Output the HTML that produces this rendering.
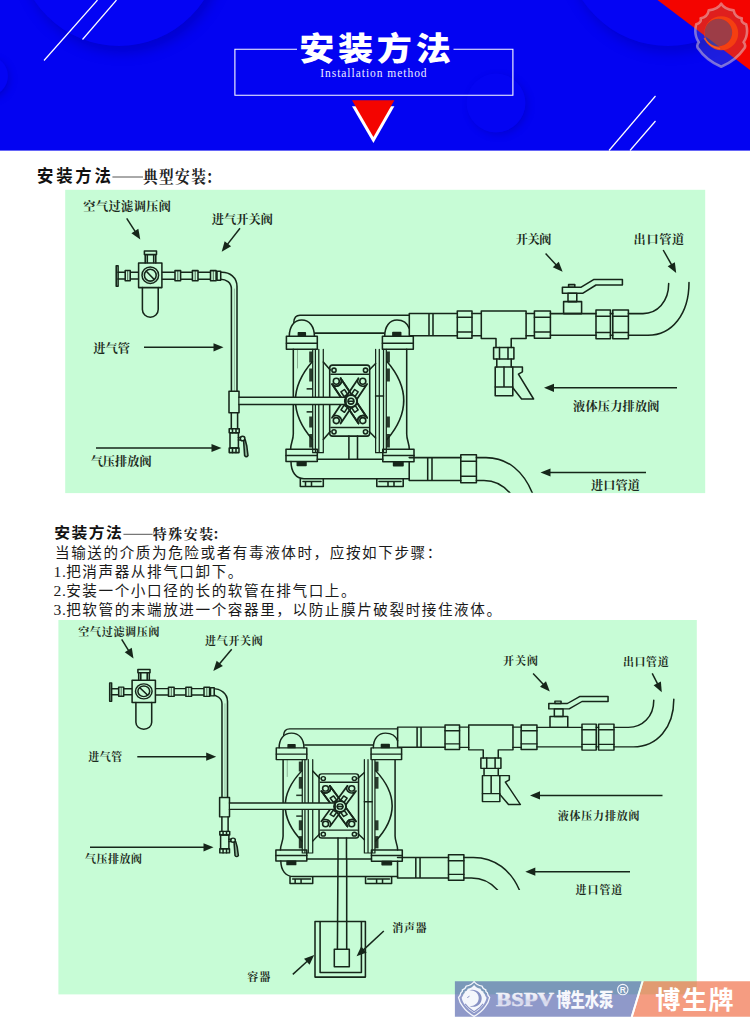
<!DOCTYPE html>
<html lang="zh"><head><meta charset="utf-8"><title>安装方法 Installation method</title>
<style>
html,body{margin:0;padding:0;background:#fff;}
body{width:750px;height:1018px;overflow:hidden;font-family:"Liberation Sans",sans-serif;}
svg{display:block;}
</style></head><body>
<svg width="750" height="1018" viewBox="0 0 750 1018">
<defs>
<clipPath id="hclip"><rect x="0" y="0" width="750" height="150.5"/></clipPath>
<filter id="bl7" x="-30%" y="-30%" width="160%" height="160%"><feGaussianBlur stdDeviation="6"/></filter><filter id="bl4" x="-30%" y="-30%" width="160%" height="160%"><feGaussianBlur stdDeviation="3.5"/></filter>
<g id="artF" fill="none" stroke="#16261a" stroke-width="1.55" stroke-linejoin="round" stroke-linecap="round"><rect x="116.2" y="265.8" width="1.9" height="20.5"/><path d="M118 272.3H138.6M118 278.9H138.6"/><rect x="125.2" y="270.5" width="5" height="10.2" fill="#c7fcd6"/><path d="M127.7 271V280.3" stroke-width="0.7"/><rect x="138.6" y="263" width="23.3" height="24.6" fill="#c7fcd6"/><circle cx="150.3" cy="275.2" r="8.3" stroke-width="1.5"/><circle cx="150.3" cy="275.2" r="5.9"/><path d="M146.3 271.3L154 279.2" stroke-width="1.6"/><path d="M144.4 251H156.5V254.6H155.8V263M145.2 263V254.6H144.4V251M145.2 254.6H155.8M147.3 255V262.6M153.7 255V262.6"/><path d="M142.4 287.6V309.5C142.4 314 146 317.2 150.3 317.2C154.6 317.2 158.2 314 158.2 309.5V287.6"/><rect x="175" y="270.6" width="5.6" height="10.2" fill="#c7fcd6"/><path d="M177.8 271V280.4" stroke-width="0.7"/><rect x="192.4" y="270.6" width="5.6" height="10.2" fill="#c7fcd6"/><path d="M195.2 271V280.4" stroke-width="0.7"/><rect x="210.5" y="270.6" width="5.6" height="10.2" fill="#c7fcd6"/><path d="M213.3 271V280.4" stroke-width="0.7"/><rect x="217" y="271.2" width="3.7" height="9" fill="#c7fcd6"/></g>
<g id="artP" fill="none" stroke="#16261a" stroke-width="1.55" stroke-linejoin="round" stroke-linecap="round"><path d="M161.9 272.2H222C229.5 272.2 237 277 237 286.5V394M161.9 279.3H220.5C226 279.3 231.4 282.5 231.4 289V394"/><path d="M234.4 289V391" stroke-width="0.5" opacity="0.6"/></g>
<g id="artR" fill="none" stroke="#16261a" stroke-width="1.55" stroke-linejoin="round" stroke-linecap="round"><rect x="229" y="391.3" width="10" height="21.4" fill="#c7fcd6"/><path d="M231.3 412.7V428.7M237.6 412.7V428.7"/><rect x="229.2" y="428.7" width="10" height="4"/><path d="M232.5 428.7V432.7M236 428.7V432.7"/><rect x="230" y="432.7" width="8.4" height="15.3"/><rect x="229.2" y="448" width="9.8" height="4.6"/><path d="M232.5 448V452.6M236 448V452.6"/><circle cx="242.6" cy="438.5" r="2.3"/><path d="M238.4 437.5H240.4M238.4 440H240.4"/><path d="M243.6 440.6L244.6 455.5Q246.3 458 248 455.5L246.8 446L245.2 439.8" fill="#16261a" fill-opacity="0.35"/><path d="M293.8 322.5C294 318 296 315.3 300 315.3H409.3M315.3 333.1H384.2"/><path d="M289.3 336.3C289.3 326.5 294 320 301.8 320C309.5 320 314.4 326.5 314.4 336.3"/><path d="M384.7 336.3C384.7 326.5 389.5 320 397 320C403 320 407.5 323.5 409.3 328.5"/><rect x="298.4" y="332.7" width="6.9" height="3.4" fill="#16261a"/><rect x="392.9" y="332.5" width="7.8" height="3.6" fill="#16261a"/><rect x="286.4" y="336.3" width="30.9" height="13"/><path d="M286.4 343.2H317.3"/><rect x="382.4" y="336.3" width="30.9" height="13"/><path d="M382.4 343.2H413.3"/><path d="M293.3 349.3V434C293.3 440 290.6 443.5 290.6 449.3"/><path d="M406.7 349.3V434C406.7 440 409.3 443.5 409.3 449.3"/><path d="M297.5 349.3V368" stroke-width="0.6" opacity="0.6"/><path d="M312.4 361.5Q278.5 400.5 312.4 439.5"/><path d="M387 361.5Q420.5 400.5 387 439.5"/><path d="M312.7 349.3V452.7H323.3V349.3M315.4 349.3V452.7M318.8 349.3V452.7" stroke-width="1.25"/><path d="M375.6 349.3V452.7H386.3V349.3M379.3 349.3V452.7M383.5 349.3V452.7" stroke-width="1.25"/><path d="M375.6 396H383.5"/><rect x="309.2" y="351.5" width="3.5" height="11" fill="#16261a" stroke="none" opacity="0.9"/><rect x="309.2" y="368.5" width="3.5" height="13" fill="#16261a" stroke="none" opacity="0.9"/><rect x="306.6" y="388" width="6" height="1.7" fill="#16261a" stroke="none" opacity="0.9"/><rect x="306.6" y="411" width="6" height="1.7" fill="#16261a" stroke="none" opacity="0.9"/><rect x="309.2" y="416.5" width="3.5" height="11" fill="#16261a" stroke="none" opacity="0.9"/><rect x="309.2" y="434" width="3.5" height="13.5" fill="#16261a" stroke="none" opacity="0.9"/><rect x="386.4" y="351.5" width="3.5" height="11" fill="#16261a" stroke="none" opacity="0.9"/><rect x="386.4" y="368.5" width="3.5" height="13" fill="#16261a" stroke="none" opacity="0.9"/><rect x="386.4" y="416.5" width="3.5" height="11" fill="#16261a" stroke="none" opacity="0.9"/><rect x="386.4" y="434" width="3.5" height="13.5" fill="#16261a" stroke="none" opacity="0.9"/><path d="M323.3 362L330.3 370M375.6 363.5L369.2 370M323.3 439.5L330.3 431.5M375.6 438L369.2 431.5"/><path d="M332.5 365.1H367Q369.7 365.1 369.7 368V433.2Q369.7 436.1 367 436.1H332.5Q329.7 436.1 329.7 433.2V368Q329.7 365.1 332.5 365.1Z"/><path d="M331 374.3H368.5M331 427.4H368.5"/><circle cx="334" cy="370.2" r="2.1"/><circle cx="365.5" cy="370.2" r="2.1"/><circle cx="334" cy="431.8" r="2.1"/><circle cx="365.5" cy="431.8" r="2.1"/><path d="M331.99 384.1L358.49 423.5A5.2 5.2 0 0 1 367.11 417.7L340.61 378.3A5.2 5.2 0 0 1 331.99 384.1Z" fill="#c7fcd6" stroke-width="1.8"/><path d="M358.49 378.3L331.99 417.7A5.2 5.2 0 0 1 340.61 423.5L367.11 384.1A5.2 5.2 0 0 1 358.49 378.3Z" fill="#c7fcd6" stroke-width="1.8"/><path d="M331.99 384.1L358.49 423.5A5.2 5.2 0 0 1 367.11 417.7L340.61 378.3A5.2 5.2 0 0 1 331.99 384.1Z" fill="none" stroke-width="1.8"/><circle cx="336.3" cy="381.2" r="3" stroke-width="1.6"/><circle cx="362.8" cy="381.2" r="3" stroke-width="1.6"/><circle cx="336.3" cy="420.6" r="3" stroke-width="1.6"/><circle cx="362.8" cy="420.6" r="3" stroke-width="1.6"/><rect x="341.45" y="390.92" width="5.6" height="4.2" transform="rotate(56.08 344.25 393.02)"/><rect x="352.05" y="406.68" width="5.6" height="4.2" transform="rotate(56.08 354.85 408.78)"/><rect x="352.05" y="390.92" width="5.6" height="4.2" transform="rotate(123.92 354.85 393.02)"/><rect x="341.45" y="406.68" width="5.6" height="4.2" transform="rotate(123.92 344.25 408.78)"/><rect x="239.6" y="397.3" width="106.6" height="7.1" fill="#c7fcd6" stroke="none"/><path d="M239 397.3H346.5M239 404.4H346.5"/><circle cx="351" cy="401.2" r="6.1" fill="#c7fcd6" stroke-width="2"/><circle cx="351" cy="401.2" r="2.9" stroke-width="1.6"/><path d="M348.2 401.2H353.8"/><path d="M346 397.3V404.4"/><path d="M348.9 436.1V459.3M357.5 436.1V459.3"/><rect x="286" y="449.3" width="31.3" height="12.3"/><path d="M286 455.4H317.3"/><rect x="382.8" y="449.3" width="31.2" height="12.5"/><path d="M382.8 455.4H414"/><rect x="297.3" y="461.8" width="8.7" height="3.8" fill="#16261a"/><rect x="393.6" y="462" width="9.4" height="3.8" fill="#16261a"/><path d="M317.3 459.3H382.8"/><path d="M291 461.6C291 472 296 478.7 304 478.7H409.2"/><path d="M300.3 479V486.4H323.3V479M305.5 481.5V486.4M311.5 481.5V486.4M303 481.5H321"/><path d="M376.8 479V486.4H403.2V479M388 481.5V486.4M394 481.5V486.4M379 481.5H401"/><path d="M409.3 313.4H457.3M409.3 313.4V335.7H457.3M429 313.4V335.7M433 313.4V335.7"/><path d="M409.2 457.6H460.8M409.2 461.8V480.4H460.8M427.7 457.6V480.4M432 457.6V480.4"/><rect x="457.3" y="311" width="14.7" height="27.2"/><path d="M457.3 317.3H472 M457.3 331.9H472"/><path d="M472 313.4H481.3M472 335.8H481.3"/><path d="M481.3 311H526.1V338.5H511.2V347.5M496 347.5V338.5H481.3V311"/><path d="M526.1 313.4H534.4M526.1 335.8H534.4"/><rect x="534.4" y="311" width="16" height="27.2"/><path d="M534.4 317.3H550.4 M534.4 331.9H550.4"/><path d="M550.4 313.6H596M550.4 335.2H596"/><rect x="596" y="310" width="14.4" height="28.8"/><path d="M596 316.3H610.4 M596 332.5H610.4"/><rect x="612.8" y="310" width="15.6" height="28.8"/><path d="M612.8 316.3H628.4 M612.8 332.5H628.4"/><path d="M610.4 313.6H612.8M610.4 335.2H612.8"/><path d="M628.4 313.6H643C657 313.6 668.7 302 668.7 283.6M628.4 335.2H648C672 335.2 689 314 689 282.4"/><rect x="563.6" y="301.6" width="18" height="12"/><rect x="568" y="293.2" width="8.8" height="8.4"/><path d="M562.4 287.2H581.2L594 279.4H622.4V285H596L583 293.2H562.4Z"/><rect x="568.6" y="284.6" width="6.2" height="2.6"/><rect x="493.6" y="347.5" width="20.3" height="11.5"/><path d="M499.5 347.5V359M508 347.5V359"/><path d="M496.8 359V367M511.2 359V367"/><rect x="495.2" y="367" width="17.6" height="28.8"/><path d="M495.2 387H512.8M504 367V387"/><path d="M512.8 367H522.4V371.8L518.4 374.2L533.6 399H521.6L512.8 387.8"/><rect x="460.8" y="454.7" width="15.6" height="28.1"/><path d="M460.8 461.2H476.4M460.8 476.3H476.4"/><path d="M476.4 457.6H486C508 457.6 524 472 532.6 493.6M476.4 480.4H484C495 480.4 503 484.5 510.4 493.6"/></g>
<linearGradient id="bs" x1="0" y1="0" x2="0" y2="1"><stop offset="0" stop-color="#fbfbfe"/><stop offset="0.45" stop-color="#e4e6f2"/><stop offset="0.55" stop-color="#d2d5ea"/><stop offset="1" stop-color="#eceef8"/></linearGradient>
</defs>
<rect x="0" y="0" width="750" height="150.6" fill="#0303f2"/>
<g clip-path="url(#hclip)">
<circle cx="123" cy="-48" r="101.5" fill="#0000b4" opacity="0.55" filter="url(#bl7)"/>
<circle cx="119" cy="-55.5" r="101.5" fill="#0404f4"/>
<circle cx="671" cy="-50" r="103" fill="#0000b4" opacity="0.5" filter="url(#bl7)"/>
<circle cx="668" cy="-57" r="103" fill="#0404f4"/>
<circle cx="-10" cy="79" r="20" fill="#0000b4" opacity="0.5" filter="url(#bl4)"/>
<circle cx="-12" cy="76" r="20" fill="#0404f4"/>
<circle cx="498.5" cy="105.5" r="29.5" fill="#0000b4" opacity="0.45" filter="url(#bl4)"/>
<circle cx="496" cy="103" r="29.5" fill="#0404f3"/>
</g>
<polygon points="657.5,0 750,0 750,70" fill="#f40400"/>
<line x1="44" y1="60.5" x2="97.5" y2="0" stroke="#fff" stroke-width="1.2"/>
<line x1="82.5" y1="39.5" x2="116.5" y2="0" stroke="#fff" stroke-width="1.2"/>
<line x1="609" y1="150.5" x2="655.5" y2="96" stroke="#fff" stroke-width="1.2"/>
<line x1="630" y1="150.5" x2="655.5" y2="121" stroke="#fff" stroke-width="1.2"/>
<path d="M297 49.2H234.9V95.3H512.9V49.2H453.5" fill="none" stroke="#fff" stroke-width="1.1"/>
<polygon points="352,106.2 394.4,106.2 373.4,143" fill="#fff"/>
<polygon points="352,100.2 394.4,100.2 373.4,137" fill="#f40400"/>
<text transform="translate(299.3 60.4) scale(1.11 1)" font-family="'Liberation Sans','Noto Sans CJK SC',sans-serif" font-weight="900" font-size="31.6" letter-spacing="3.35" fill="#fff">安装方法</text>
<text transform="translate(320.2 77.1) scale(1 1.17)" font-family="'Liberation Serif',serif" font-size="11.5" letter-spacing="0.97" textLength="107.4" lengthAdjust="spacing" fill="#eeeeff">Installation method</text>
<text transform="translate(37 182) scale(0.97 1)" font-family="'Liberation Sans','Noto Sans CJK SC',sans-serif" font-weight="bold" font-size="16.9" letter-spacing="2.9" fill="#111">安装方法</text>
<line x1="112.4" y1="177" x2="143" y2="177" stroke="#555" stroke-width="1"/>
<text transform="translate(142.9 182.7) scale(0.886 1)" font-family="'Liberation Serif','Noto Serif CJK SC',serif" font-weight="bold" font-size="16.6" letter-spacing="1.57" fill="#222">典型安装</text>
<text transform="translate(205.8 182.7) scale(0.886 1)" font-family="'Liberation Serif','Noto Serif CJK SC',serif" font-weight="bold" font-size="16.6" fill="#222">：</text>
<text transform="translate(54.3 538.2) scale(1.04 1)" font-family="'Liberation Sans','Noto Sans CJK SC',sans-serif" font-weight="bold" font-size="15.2" letter-spacing="1.34" fill="#111">安装方法</text>
<line x1="123.4" y1="534.3" x2="152.6" y2="534.3" stroke="#555" stroke-width="1"/>
<text x="152.7" y="538.85" font-family="'Liberation Serif','Noto Serif CJK SC',serif" font-weight="bold" font-size="13.85" letter-spacing="1.65" fill="#222">特殊安装</text>
<text x="212.3" y="538.85" font-family="'Liberation Serif','Noto Serif CJK SC',serif" font-weight="bold" font-size="13.85" fill="#222">：</text>
<text x="55" y="557.9" font-family="'Liberation Sans','Noto Sans CJK SC',sans-serif" font-size="14.6" letter-spacing="1.57" fill="#1a1a1a">当输送的介质为危险或者有毒液体时，应按如下步骤：</text>
<text x="53.6" y="577.1" font-family="'Liberation Serif',serif" font-size="15.6" fill="#1a1a1a" letter-spacing="0.6">1.</text>
<text x="66.2" y="577.4" font-family="'Liberation Sans','Noto Sans CJK SC',sans-serif" font-size="14.6" letter-spacing="1.57" fill="#1a1a1a">把消声器从排气口卸下。</text>
<text x="53.6" y="596.1" font-family="'Liberation Serif',serif" font-size="15.6" fill="#1a1a1a" letter-spacing="0.6">2.</text>
<text x="66.2" y="596.4" font-family="'Liberation Sans','Noto Sans CJK SC',sans-serif" font-size="14.6" letter-spacing="1.57" fill="#1a1a1a">安装一个小口径的长的软管在排气口上。</text>
<text x="53.6" y="615.1" font-family="'Liberation Serif',serif" font-size="15.6" fill="#1a1a1a" letter-spacing="0.6">3.</text>
<text x="66.2" y="615.4" font-family="'Liberation Sans','Noto Sans CJK SC',sans-serif" font-size="14.6" letter-spacing="1.57" fill="#1a1a1a">把软管的末端放进一个容器里，以防止膜片破裂时接住液体。</text>
<rect x="65.2" y="189.8" width="640" height="303.3" fill="#c7fcd6"/>
<clipPath id="d1clip"><rect x="65.2" y="189.8" width="640" height="303"/></clipPath>
<g clip-path="url(#d1clip)"><use href="#artP"/><use href="#artR"/><use href="#artF"/></g>
<line x1="126.7" y1="218.3" x2="135.44" y2="231.92" stroke="#16261a" stroke-width="1.5"/><polygon points="140.3,239.5 131.45,233.3 138.35,228.87" fill="#16261a"/>
<line x1="240" y1="228.3" x2="227.24" y2="244.61" stroke="#16261a" stroke-width="1.5"/><polygon points="221.7,251.7 224.63,241.3 231.09,246.35" fill="#16261a"/>
<line x1="144" y1="347.3" x2="214.5" y2="347.3" stroke="#16261a" stroke-width="1.5"/><polygon points="223.5,347.3 213.5,351.4 213.5,343.2" fill="#16261a"/>
<line x1="96" y1="448" x2="212.5" y2="448" stroke="#16261a" stroke-width="1.5"/><polygon points="221.5,448 211.5,452.1 211.5,443.9" fill="#16261a"/>
<line x1="545.6" y1="253.6" x2="556.46" y2="265.22" stroke="#16261a" stroke-width="1.5"/><polygon points="562.6,271.8 552.78,267.29 558.77,261.69" fill="#16261a"/>
<line x1="663.2" y1="250" x2="671.77" y2="265.16" stroke="#16261a" stroke-width="1.5"/><polygon points="676.2,273 667.71,266.31 674.85,262.28" fill="#16261a"/>
<line x1="677" y1="387.8" x2="553" y2="387.8" stroke="#16261a" stroke-width="1.5"/><polygon points="544,387.8 554,383.7 554,391.9" fill="#16261a"/>
<line x1="646" y1="472.5" x2="549.5" y2="472.5" stroke="#16261a" stroke-width="1.5"/><polygon points="540.5,472.5 550.5,468.4 550.5,476.6" fill="#16261a"/>
<g font-family="'Liberation Serif','Noto Serif CJK SC',serif" font-weight="bold" font-size="12.2" fill="#1c2a20">
<text x="83.3" y="211.27" letter-spacing="0.4">空气过滤调压阀</text>
<text x="211.7" y="223.88" letter-spacing="0.1">进气开关阀</text>
<text x="93.3" y="352.88">进气管</text>
<text x="90.7" y="466.27">气压排放阀</text>
<text x="515.7" y="243.57" letter-spacing="-0.4">开关阀</text>
<text x="633.6" y="243.57" letter-spacing="0.6">出口管道</text>
<text x="573" y="410.57" letter-spacing="0.2">液体压力排放阀</text>
<text x="591" y="490.27" letter-spacing="0.05">进口管道</text>
</g>
<rect x="58.4" y="620" width="638.4" height="374.4" fill="#c7fcd6"/>
<clipPath id="d2clip"><rect x="58.4" y="620" width="638.4" height="270"/></clipPath>
<g clip-path="url(#d2clip)">
<use href="#artP" transform="matrix(0.9874 0 0 0.9035 -6.5 442.7)"/>
<use href="#artR" transform="matrix(0.9874 0 0 0.9035 -6.5 444.0)"/>
<use href="#artF" transform="matrix(1 0 0 0.9035 -6.5 442.7)"/>
</g>
<g fill="none" stroke="#16261a" stroke-width="1.55" stroke-linejoin="round">
<path d="M338 859L337.4 949.3M346.7 859V949.3"/>
<rect x="315" y="921.5" width="50.4" height="55.6"/>
<path d="M320.1 921.5V972.4H361.4V921.5"/>
<rect x="334.3" y="949.3" width="15" height="17.4" fill="#c7fcd6"/>
</g>
<line x1="121.7" y1="639.3" x2="128.79" y2="650.83" stroke="#16261a" stroke-width="1.5"/><polygon points="133.5,658.5 124.77,652.13 131.76,647.83" fill="#16261a"/>
<line x1="231.7" y1="649.3" x2="219.12" y2="664.14" stroke="#16261a" stroke-width="1.5"/><polygon points="213.3,671 216.64,660.72 222.89,666.02" fill="#16261a"/>
<line x1="137.3" y1="756.7" x2="207.2" y2="756.7" stroke="#16261a" stroke-width="1.5"/><polygon points="216.2,756.7 206.2,760.8 206.2,752.6" fill="#16261a"/>
<line x1="90" y1="847.3" x2="204.5" y2="847.3" stroke="#16261a" stroke-width="1.5"/><polygon points="213.5,847.3 203.5,851.4 203.5,843.2" fill="#16261a"/>
<line x1="533.1" y1="673.4" x2="543.68" y2="684.8" stroke="#16261a" stroke-width="1.5"/><polygon points="549.8,691.4 539.99,686.86 546,681.28" fill="#16261a"/>
<line x1="652.2" y1="673.4" x2="657.71" y2="684.18" stroke="#16261a" stroke-width="1.5"/><polygon points="661.8,692.2 653.6,685.16 660.9,681.43" fill="#16261a"/>
<line x1="662.5" y1="795.4" x2="539" y2="795.4" stroke="#16261a" stroke-width="1.5"/><polygon points="530,795.4 540,791.3 540,799.5" fill="#16261a"/>
<line x1="630" y1="871.7" x2="534.3" y2="871.7" stroke="#16261a" stroke-width="1.5"/><polygon points="525.3,871.7 535.3,867.6 535.3,875.8" fill="#16261a"/>
<line x1="383.8" y1="931" x2="363.2" y2="950.08" stroke="#16261a" stroke-width="1.5"/><polygon points="356.6,956.2 361.15,946.4 366.72,952.41" fill="#16261a"/>
<line x1="292.8" y1="974.4" x2="307.53" y2="961.04" stroke="#16261a" stroke-width="1.5"/><polygon points="314.2,955 309.54,964.75 304.04,958.68" fill="#16261a"/>
<g font-family="'Liberation Serif','Noto Serif CJK SC',serif" font-weight="bold" font-size="11" fill="#1c2a20">
<text x="78.3" y="635.83" letter-spacing="0.7">空气过滤调压阀</text>
<text x="205" y="645.12" letter-spacing="0.7">进气开关阀</text>
<text x="88.3" y="760.83" letter-spacing="0.5">进气管</text>
<text x="85" y="863.42" letter-spacing="0.5">气压排放阀</text>
<text x="503" y="665.12" letter-spacing="1">开关阀</text>
<text x="622.9" y="666.12" letter-spacing="0.6">出口管道</text>
<text x="557.7" y="820.33" letter-spacing="0.8">液体压力排放阀</text>
<text x="575.6" y="893.73" letter-spacing="0.9">进口管道</text>
<text x="392.2" y="932.12" letter-spacing="0.7">消声器</text>
<text x="247.3" y="980.83" letter-spacing="1">容器</text>
</g>
<polygon points="454.9,981.3 641.6,981.3 630.8,1016.8 454.9,1016.8" fill="#4a5aa8" fill-opacity="0.62"/>
<polygon points="643.6,981.3 750,981.3 750,1016.8 632.8,1016.8" fill="#f0643a" fill-opacity="0.64"/>
<polygon points="641.6,981.3 643.6,981.3 632.8,1016.8 630.8,1016.8" fill="#ffffff" fill-opacity="0.85"/>
<g transform="translate(474.1 998.8)"><path d="M0 -17.3C1.6 -14.8 4.6 -13.2 8 -12.6C8.4 -10.6 9.8 -9.4 11.8 -9C11.4 -7.6 12 -6.6 13.2 -6.2C13.4 -4.4 14.4 -2.6 15.6 -1.4C14.8 2.4 13.2 5.4 11.4 7.6C8.6 11.6 4.6 15 0 17.6C-4.6 15 -8.6 11.6 -11.4 7.6C-13.2 5.4 -14.8 2.4 -15.6 -1.4C-14.4 -2.6 -13.4 -4.4 -13.2 -6.2C-12 -6.6 -11.4 -7.6 -11.8 -9C-9.8 -9.4 -8.4 -10.6 -8 -12.6C-4.6 -13.2 -1.6 -14.8 0 -17.3Z" fill="none" stroke="#f4f6fc" stroke-width="1.3" stroke-linejoin="round"/><path d="M0 -17.3C1.6 -14.8 4.6 -13.2 8 -12.6C8.4 -10.6 9.8 -9.4 11.8 -9C11.4 -7.6 12 -6.6 13.2 -6.2C13.4 -4.4 14.4 -2.6 15.6 -1.4C14.8 2.4 13.2 5.4 11.4 7.6C8.6 11.6 4.6 15 0 17.6C-4.6 15 -8.6 11.6 -11.4 7.6C-13.2 5.4 -14.8 2.4 -15.6 -1.4C-14.4 -2.6 -13.4 -4.4 -13.2 -6.2C-12 -6.6 -11.4 -7.6 -11.8 -9C-9.8 -9.4 -8.4 -10.6 -8 -12.6C-4.6 -13.2 -1.6 -14.8 0 -17.3Z" transform="scale(0.8)" fill="#f4f6fc"/><path d="M-5.2 -8.4C1.4 -10.6 7.6 -6 7.6 -0.6C7.6 5.6 1.8 9.4 -4.6 7.4C-0.2 7.6 4.6 4.6 4.6 -0.8C4.6 -5.6 0.2 -8.8 -5.2 -8.4Z" fill="#8791c4"/><path d="M-8.6 5.4C-6 9.6 -2.6 11.2 0 12.8C2.6 11.2 6 9.6 8.6 5.4" fill="none" stroke="#8791c4" stroke-width="1.2" stroke-linecap="round"/><path d="M-6.8 -1.2L-4.6 -2.6" fill="none" stroke="#8791c4" stroke-width="1"/></g>
<text x="496" y="1006" font-family="'Liberation Serif',serif" font-weight="bold" font-size="17.8" fill="url(#bs)" textLength="58" lengthAdjust="spacingAndGlyphs" stroke="url(#bs)" stroke-width="0.5">BSPV</text>
<text transform="translate(556.4 1007) scale(0.745 1)" font-family="'Liberation Sans','Noto Sans CJK SC',sans-serif" font-weight="900" font-size="19.4" letter-spacing="-0.34" fill="#f6f7fc">博生水泵</text>
<circle cx="622.8" cy="989.6" r="5.2" fill="none" stroke="#f4f5fb" stroke-width="1.1"/>
<text x="622.8" y="992.6" text-anchor="middle" font-family="'Liberation Sans',sans-serif" font-size="8.4" font-weight="bold" fill="#f4f5fb">R</text>
<text transform="translate(655.3 1009) scale(0.99 1)" font-family="'Liberation Sans','Noto Sans CJK SC',sans-serif" font-weight="bold" font-size="25.4" letter-spacing="1.47" fill="#fff">博生牌</text>
<g transform="translate(721.2 35.2)"><path d="M0 -31.5C2 -28 6 -25.5 12.5 -24.8C13.2 -20.5 16.5 -17.6 20.6 -17C19.8 -14 21.5 -11.6 25 -11C26.8 -4 25.6 2.5 22.4 7C24.2 9 24.4 11 23.4 12.8C17.5 21.5 9.5 27.5 0 31.6C-9.5 27.5 -17.5 21.5 -23.4 12.8C-24.4 11 -24.2 9 -22.4 7C-25.6 2.5 -26.8 -4 -25 -11C-21.5 -11.6 -19.8 -14 -20.6 -17C-16.5 -17.6 -13.2 -20.5 -12.5 -24.8C-6 -25.5 -2 -28 0 -31.5Z" fill="#8c8c98" fill-opacity="0.2" stroke="#e6cfd2" stroke-opacity="0.5" stroke-width="2.6" stroke-linejoin="round"/><circle cx="-2.8" cy="-2.6" r="13.8" fill="#5c5c70" fill-opacity="0.5"/><path fill-rule="evenodd" d="M-17 -2A17 17 0 1 0 17 -2A17 17 0 1 0 -17 -2ZM-16.6 -2.6A13.8 13.8 0 1 0 11 -2.6A13.8 13.8 0 1 0 -16.6 -2.6Z" fill="#f6420f" fill-opacity="0.9"/><path d="M-17 3C-13.5 9 -8 12.4 -1 13.6" fill="none" stroke="#ff6a20" stroke-opacity="0.75" stroke-width="1.6"/></g>
</svg>
</body></html>
